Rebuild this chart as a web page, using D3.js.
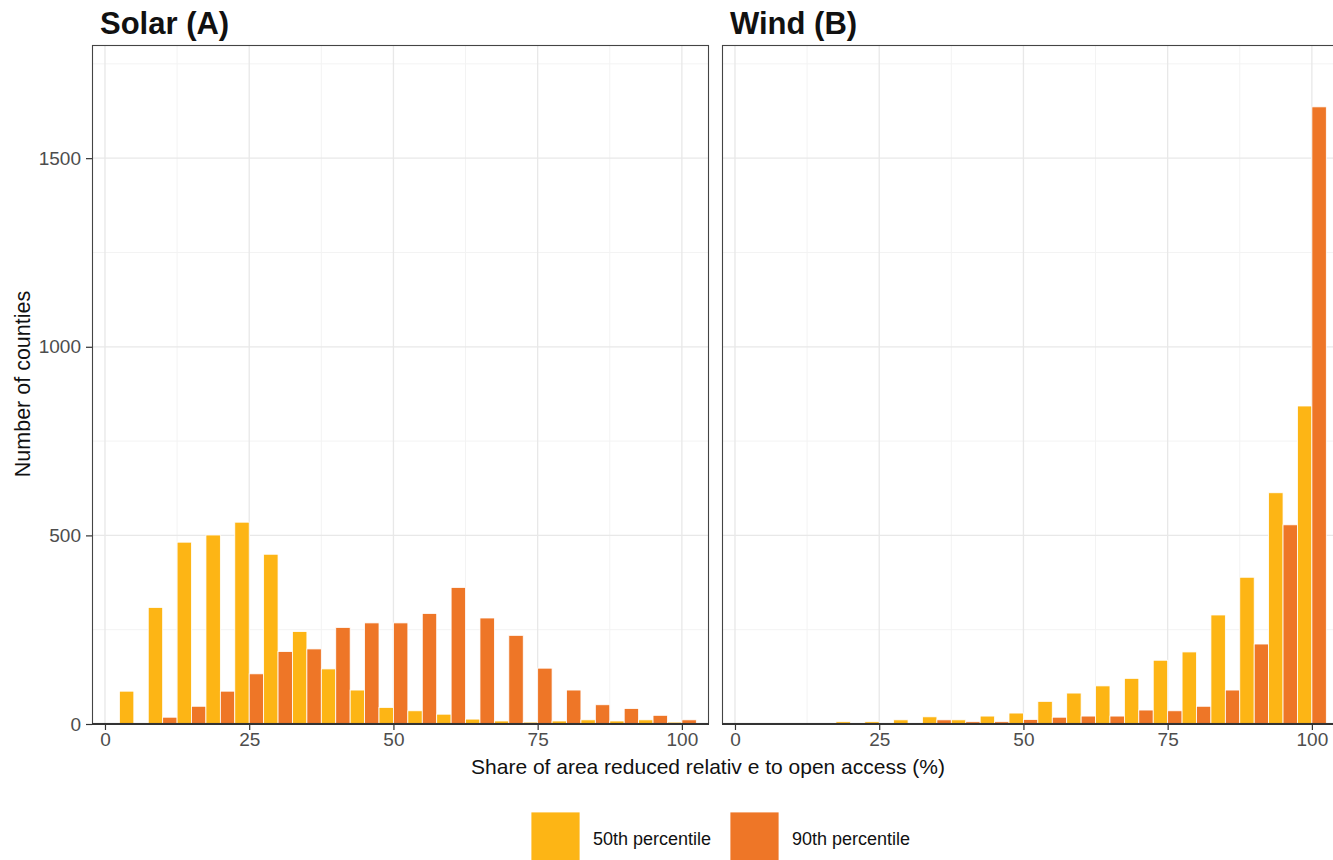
<!DOCTYPE html>
<html><head><meta charset="utf-8">
<script src="https://cdn.jsdelivr.net/npm/d3@7"></script>
<style>body{margin:0;background:#fff;overflow:hidden}svg{display:block}</style>
</head><body><svg id="c" width="1333" height="860"></svg>
<script>
const bins = [0,5,10,15,20,25,30,35,40,45,50,55,60,65,70,75,80,85,90,95,100];
const solar50 = [0,87,309,482,501,535,450,245,146,90,44,35,26,13,8,5,8,11,8,11,5];
const solar90 = [0,0,18,47,87,133,192,199,256,268,268,293,362,281,235,148,90,51,41,23,11];
const wind50 = [0,0,0,0,6,6,11,19,11,21,29,60,82,101,121,169,191,289,389,613,843];
const wind90 = [0,0,0,0,0,0,0,11,6,6,12,18,21,21,37,35,47,90,212,528,1636];
const xTicks = [0,25,50,75,100];
const xMinor = [12.5,37.5,62.5,87.5];
const yTicks = [0,500,1000,1500];
const yMinor = [250,750,1250,1750];
const seriesNames = ["50th percentile","90th percentile"];
const colors = ["#FDB515","#EE7627"];
const panels = [
  {title:"Solar (A)", s50:solar50, s90:solar90, x0:92, yaxis:true},
  {title:"Wind (B)", s50:wind50, s90:wind90, x0:722, yaxis:false}
];
const svg = d3.select("#c");
const W = 617, pTop = 45, pBottom = 724;
const font = "Liberation Sans, Arial, sans-serif";
const y = d3.scaleLinear().domain([0,1800]).range([pBottom, pTop]);

panels.forEach(p => {
  const x = d3.scaleLinear().domain([-2.25,104.7]).range([p.x0, p.x0+W]);
  const g = svg.append("g");
  g.selectAll(".ym").data(yMinor).join("line")
    .attr("x1",p.x0).attr("x2",p.x0+W).attr("y1",d=>y(d)).attr("y2",d=>y(d))
    .attr("stroke","#f3f3f3").attr("stroke-width",1);
  g.selectAll(".xm").data(xMinor).join("line")
    .attr("y1",pTop).attr("y2",pBottom).attr("x1",d=>x(d)).attr("x2",d=>x(d))
    .attr("stroke","#f3f3f3").attr("stroke-width",1);
  g.selectAll(".yM").data(yTicks).join("line")
    .attr("x1",p.x0).attr("x2",p.x0+W).attr("y1",d=>y(d)).attr("y2",d=>y(d))
    .attr("stroke","#e8e8e8").attr("stroke-width",1.3);
  g.selectAll(".xM").data(xTicks).join("line")
    .attr("y1",pTop).attr("y2",pBottom).attr("x1",d=>x(d)).attr("x2",d=>x(d))
    .attr("stroke","#e8e8e8").attr("stroke-width",1.3);
  const data = [];
  bins.forEach((b,i) => {
    data.push({x0:b-2.5, x1:b, v:p.s50[i], c:colors[0]});
    data.push({x0:b, x1:b+2.5, v:p.s90[i], c:colors[1]});
  });
  g.selectAll(".bar").data(data.filter(d=>d.v>0)).join("rect")
    .attr("x",d=>x(d.x0)).attr("width",d=>x(d.x1)-x(d.x0))
    .attr("y",d=>y(d.v)).attr("height",d=>y(0)-y(d.v))
    .attr("fill",d=>d.c).attr("stroke","#fff").attr("stroke-width",0.8);
  g.append("rect").attr("x",p.x0+0.5).attr("y",pTop+0.5).attr("width",W-1).attr("height",pBottom-pTop-1)
    .attr("fill","none").attr("stroke","#444").attr("stroke-width",1.1);
  g.append("line").attr("x1",p.x0).attr("x2",p.x0+W).attr("y1",pBottom).attr("y2",pBottom)
    .attr("stroke","#333").attr("stroke-width",2);
  const xa = g.append("g").attr("transform",`translate(0,${pBottom})`)
    .call(d3.axisBottom(x).tickValues(xTicks).tickSize(6).tickPadding(3).tickFormat(d3.format("d")));
  xa.select(".domain").remove();
  xa.selectAll("line").attr("stroke","#333").attr("stroke-width",1.2);
  xa.selectAll("text").attr("font-family",font).attr("font-size",19).attr("fill","#4d4d4d");
  if (p.yaxis) {
    const ya = g.append("g").attr("transform",`translate(${p.x0},0)`)
      .call(d3.axisLeft(y).tickValues(yTicks).tickSize(6).tickPadding(5).tickFormat(d3.format("d")));
    ya.select(".domain").remove();
    ya.selectAll("line").attr("stroke","#333").attr("stroke-width",1.2);
    ya.selectAll("text").attr("font-family",font).attr("font-size",19).attr("fill","#4d4d4d");
  }
  g.append("text").attr("x",p.x0+8).attr("y",34).text(p.title)
    .attr("font-family",font).attr("font-weight","bold").attr("font-size",31).attr("fill","#111");
});

svg.append("text").attr("transform","translate(30,384) rotate(-90)").attr("text-anchor","middle")
  .attr("font-family",font).attr("font-size",21.5).attr("fill","#111").text("Number of counties");
svg.append("text").attr("x",708).attr("y",774).attr("text-anchor","middle")
  .attr("font-family",font).attr("font-size",21).attr("fill","#111")
  .text("Share of area reduced relativ e to open access (%)");

const lg = svg.append("g");
const lx = [531, 730];
seriesNames.forEach((n,i) => {
  lg.append("rect").attr("x",lx[i]).attr("y",812).attr("width",49).attr("height",49)
    .attr("fill",colors[i]).attr("stroke","#fff").attr("stroke-width",0.8);
  lg.append("text").attr("x",lx[i]+62).attr("y",845).text(n)
    .attr("font-family",font).attr("font-size",18).attr("fill","#111");
});
</script></body></html>
